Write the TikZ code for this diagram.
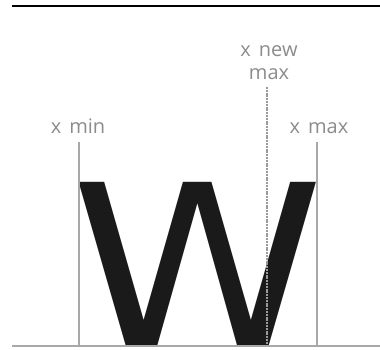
\documentclass[tikz,border=0pt]{standalone}
\usepackage{fontspec}
\setmainfont{Open Sans}
\newfontfamily\wfont{DejaVu Sans}
\usepackage{graphicx}
\definecolor{guide}{HTML}{A8A8A8}
\definecolor{dashgray}{HTML}{9A9A9A}
\definecolor{labelgray}{HTML}{8C8C8C}
\definecolor{glyph}{HTML}{1A1A1A}
\begin{document}
\begin{tikzpicture}[x=1pt,y=-1pt,
  guideline/.style={draw=guide,line width=1.4pt},
  dashguide/.style={draw=dashgray,line width=1.4pt,dash pattern=on 2pt off 0.8pt},
  lbl/.style={text=labelgray,font=\fontsize{20}{23}\selectfont,inner sep=0pt,align=center},
  glyphnode/.style={inner sep=0pt,text=glyph}]
\useasboundingbox (0,0) rectangle (380,350);
% top rule
\coordinate (tl) at (12,6);
\coordinate (tr) at (380,6);
\draw[black,line width=1.2pt] (tl) -- (tr);
% baseline
\coordinate (bl) at (12,346);
\coordinate (br) at (380,346);
% glyph
\node[glyphnode,anchor=south west] (w) at (70.5,346) {\resizebox{254pt}{163pt}{\wfont W}};
% labels
\node[lbl,anchor=base] (xmin) at (78,133) {x\hspace{0.4em}min};
\node[lbl,anchor=base] (xmax) at (319,133) {x\hspace{0.4em}max};
\node[lbl,anchor=base] (xnew) at (269,80) {x\hspace{0.4em}new\\max};
% guides
\coordinate (minb) at (79,346);
\coordinate (maxb) at (317,346);
\coordinate (newb) at (267,346);
\draw[guideline] (79,142) coordinate (mint) -- (minb);
\draw[guideline] (317,142) coordinate (maxt) -- (maxb);
\draw[dashguide] (267,87) coordinate (newt) -- (newb);
\draw[guideline] (bl) -- (br);
\end{tikzpicture}
\end{document}
